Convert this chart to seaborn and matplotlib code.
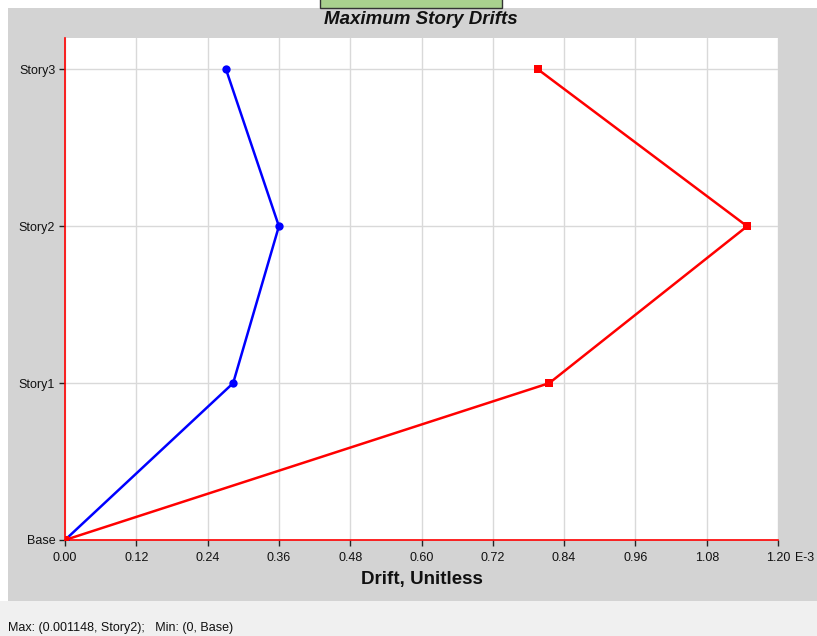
import matplotlib
matplotlib.use("Agg")
import matplotlib.pyplot as plt
from matplotlib.patches import Rectangle
import seaborn as sns
import pandas as pd

# Story levels, bottom to top
stories = ["Base", "Story1", "Story2", "Story3"]
# Maximum drift per story (units of 1E-3)
drift_x = [0.0, 0.283, 0.360, 0.271]
drift_y = [0.0, 0.815, 1.148, 0.796]
x_ticks = [0.00, 0.12, 0.24, 0.36, 0.48, 0.60, 0.72, 0.84, 0.96, 1.08, 1.20]
x_tick_labels = ["0.00", "0.12", "0.24", "0.36", "0.48", "0.60", "0.72", "0.84", "0.96", "1.08", "1.20"]
footer = "Max: (0.001148, Story2);   Min: (0, Base)"

sns.set_theme(style="white")
plt.rcParams["font.family"] = ["Liberation Sans", "DejaVu Sans"]

levels = list(range(len(stories)))
df = pd.DataFrame({
    "drift": drift_x + drift_y,
    "level": levels + levels,
    "dir": ["X"] * len(levels) + ["Y"] * len(levels),
})

W, H = 817, 636
fig = plt.figure(figsize=(W / 100, H / 100), dpi=100)
fig.patch.set_facecolor("white")

# panel backgrounds in pixel space
def px_rect(x0, y0, x1, y1, **kw):
    fig.add_artist(Rectangle((x0 / W, 1 - y1 / H), (x1 - x0) / W, (y1 - y0) / H,
                             transform=fig.transFigure, **kw))

px_rect(8, 8, 817, 601, facecolor="#d3d3d3", edgecolor="none", zorder=0)
px_rect(0, 601, 817, 636, facecolor="#f0f0f0", edgecolor="none", zorder=0)
px_rect(320, -2, 502, 8, facecolor="#a9d18e", edgecolor="#333333", linewidth=1.0, zorder=1)

ax = fig.add_axes([65 / W, 1 - 540 / H, (778 - 65) / W, (540 - 38) / H])
ax.set_facecolor("white")

sns.lineplot(data=df, x="drift", y="level", hue="dir", style="dir",
             palette={"X": "#0000ff", "Y": "#ff0000"},
             markers={"X": "o", "Y": "s"}, dashes=False,
             sort=False, estimator=None, linewidth=1.8,
             markersize=6, markeredgewidth=0, legend=False, ax=ax)

ax.set_xlim(0, 1.2)
ax.set_ylim(0, 3.2)
ax.set_xticks(x_ticks)
ax.set_xticklabels(x_tick_labels)
ax.set_yticks(levels)
ax.set_yticklabels(stories)
ax.grid(True, color="#d9d9d9", linewidth=1.0)
ax.set_axisbelow(True)

for side in ["top", "right"]:
    ax.spines[side].set_visible(False)
for side in ["left", "bottom"]:
    ax.spines[side].set_visible(True)
    ax.spines[side].set_color("#ff0000")
    ax.spines[side].set_linewidth(1.2)
    ax.spines[side].set_zorder(1)

tick_len, tick_pad = 4, 3
ax.tick_params(axis="both", direction="out", length=tick_len, width=1, color="#222222",
               labelsize=9, labelcolor="#111111", pad=tick_pad, left=True)
ax.tick_params(axis="x", pad=tick_pad + 1.5, bottom=True)

ax.annotate("E-3", xy=(1.2, 0), xycoords=("data", "axes fraction"),
            xytext=(12.2, -(tick_len + tick_pad + 1.5)), textcoords="offset points",
            ha="left", va="top", fontsize=9, color="#111111", annotation_clip=False)

ax.set_xlabel("Drift, Unitless", fontsize=13.5, fontweight="bold", color="#111111", labelpad=5)
ax.set_ylabel("")
fig.text(421 / W, 1 - 19 / H, "Maximum Story Drifts", ha="center", va="center",
         fontsize=13.5, fontweight="bold", fontstyle="italic", color="#111111")
fig.text(8 / W, 1 - 628 / H, footer, ha="left", va="center", fontsize=9, color="#111111")

fig.savefig("out.png", dpi=100, facecolor=fig.get_facecolor())
